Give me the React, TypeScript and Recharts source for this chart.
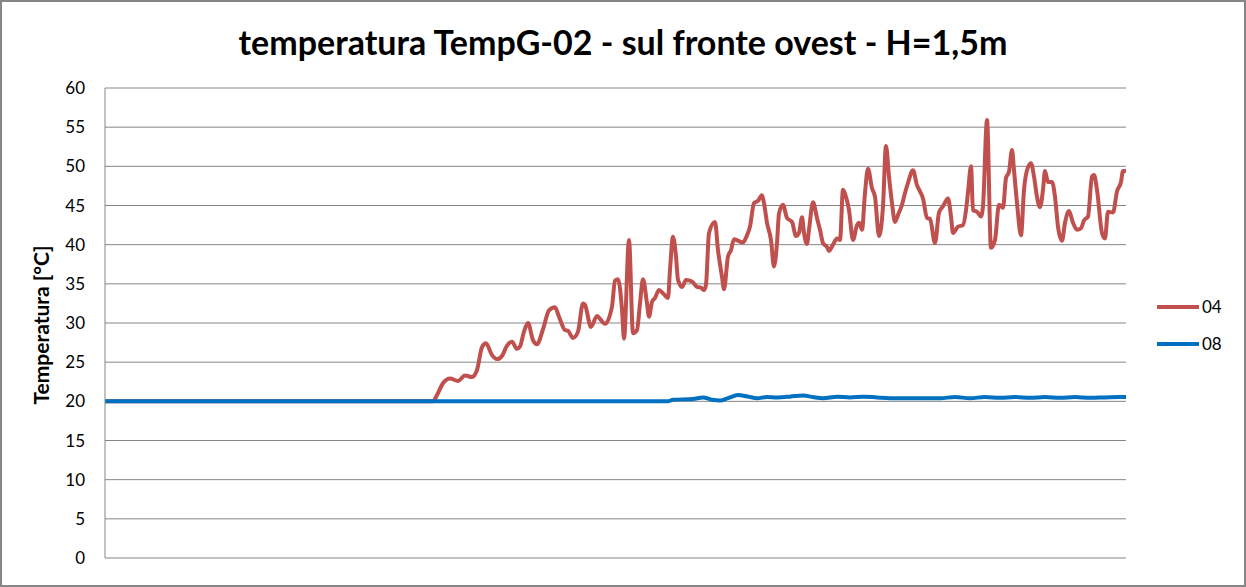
import React from 'react'
import { LineChart, Line, XAxis, YAxis, CartesianGrid, Legend } from 'recharts'

// time index (samples) and temperature readings per probe
const redTime = [
  0, 320, 328, 332, 338, 345, 353, 360, 367, 372, 377, 381, 387, 392, 397, 402, 407, 412, 415, 419,
  423, 428, 432, 438, 444, 450, 454, 460, 463, 468, 473, 478, 480, 486, 492, 497, 500, 507, 510, 513,
  517, 519, 524, 528, 532, 535, 538, 542, 544, 547, 550, 554, 558, 563, 565, 568, 571, 573, 577, 581,
  587, 592, 596, 599, 601, 604, 610, 613, 617, 619, 623, 626, 629, 633, 638, 642, 645, 649, 653, 657,
  659, 662, 666, 669, 672, 674, 678, 682, 687, 691, 694, 697, 699, 702, 704, 708, 712, 715, 718, 722,
  724, 728, 732, 735, 738, 741, 744, 748, 752, 754, 757, 760, 763, 767, 770, 774, 778, 781, 784, 787,
  790, 793, 797, 800, 803, 808, 812, 815, 818, 822, 825, 830, 834, 838, 843, 846, 848, 853, 858, 861,
  863, 866, 868, 872, 876, 878, 882, 886, 890, 894, 898, 901, 904, 907, 909, 912, 916, 919, 922, 926,
  929, 932, 935, 938, 940, 943, 947, 950, 953, 957, 960, 964, 968, 972, 976, 979, 983, 987, 989, 992,
  997, 1000, 1003, 1008, 1012, 1016, 1018, 1021,
]
const redTemp = [
  20, 20, 20, 20.8, 22.3, 22.9, 22.6, 23.3, 23.1, 24, 26.9, 27.4, 25.9, 25.4, 25.8, 27.1, 27.6, 26.7, 27, 28.9,
  30, 27.8, 27.3, 29.2, 31.6, 32, 30.8, 29.1, 29, 28.1, 28.9, 32.5, 32.3, 29.5, 30.9, 30.2, 29.9, 32.1, 35.4, 35.6,
  31.7, 28, 40.6, 28.7, 29.1, 32.5, 35.6, 32.5, 30.8, 32.7, 33.2, 34.2, 33.8, 33.2, 36.8, 41, 38.5, 35.5, 34.6, 35.5,
  35.3, 34.6, 34.5, 34.2, 34.9, 41.5, 42.9, 39.3, 35.9, 34.3, 38.5, 39.3, 40.7, 40.5, 40.3, 41.2, 42.3, 45.3, 45.6, 46.3,
  45.3, 42.8, 40.6, 37.2, 40.2, 44, 45.1, 43.4, 42.9, 41.1, 41.5, 43.5, 41.5, 40.1, 41.9, 45.4, 43.4, 41.9, 40.2, 39.7,
  39.2, 40, 40.8, 40.6, 47, 46.1, 44.4, 40.6, 42.5, 42.8, 41.9, 46.6, 49.7, 47.2, 46.1, 41.1, 44.9, 52.6, 48.7, 45.3,
  42.9, 43.8, 45.1, 46.6, 47.9, 49.5, 47.6, 46.8, 45.9, 43.4, 43.3, 40.2, 44.1, 44.9, 45.9, 43.6, 41.5, 42.3, 42.5, 44.4,
  46.7, 50, 44.4, 44.2, 43.6, 44.9, 55.9, 39.6, 40.6, 45.1, 44.7, 48.5, 49.3, 52.1, 49.5, 45.3, 41.2, 47, 49.5, 50.4,
  48.7, 46.1, 44.8, 47, 49.4, 48, 48, 46.1, 42.3, 40.5, 42.8, 44.3, 42.8, 41.9, 42.1, 43.1, 43.6, 48.7, 48.9, 47,
  41.5, 40.8, 44.2, 44.1, 46.8, 48, 49.4, 49.4,
]

const blueTime = [
  0, 563, 568, 588, 598, 607, 615, 623, 633, 643, 652, 662, 672, 685, 698, 708, 718, 732, 745, 758,
  772, 785, 835, 850, 865, 880, 895, 910, 925, 940, 955, 970, 985, 1000, 1015, 1021,
]
const blueTemp = [
  20, 20, 20.2, 20.3, 20.5, 20.2, 20.1, 20.4, 20.8, 20.6, 20.4, 20.55, 20.5, 20.6, 20.75, 20.55, 20.4, 20.6, 20.5, 20.6,
  20.5, 20.4, 20.4, 20.55, 20.4, 20.55, 20.45, 20.55, 20.45, 20.55, 20.45, 20.55, 20.45, 20.5, 20.55, 20.55,
]

const yTicks = [0, 5, 10, 15, 20, 25, 30, 35, 40, 45, 50, 55, 60]

const seriesNames = ['04', '08']
const seriesColors = ['#C0504D', '#0070C0']

const redData = redTime.map((t, i) => ({ t, v: redTemp[i] }))
const blueData = blueTime.map((t, i) => ({ t, v: blueTemp[i] }))

const FONT = 'Lato, "Open Sans", sans-serif'

function LegendBox(props: any) {
  const items = props.payload || []
  return (
    <div style={{ fontFamily: FONT, fontSize: 17, color: '#000' }}>
      {items.map((it: any) => (
        <div key={it.value} style={{ display: 'flex', alignItems: 'center', height: 37 }}>
          <div style={{ width: 42, height: 4, background: it.color, marginRight: 3 }} />
          <span>{it.value}</span>
        </div>
      ))}
    </div>
  )
}

export default function App() {
  return (
    <div style={{ position: 'absolute', left: 0, top: 0, width: 1246, height: 587, background: '#fff' }}>
      <LineChart
        width={1246}
        height={587}
        margin={{ top: 88, right: 40, bottom: 29, left: 0 }}
        style={{ position: 'absolute', left: 0, top: 0 }}
      >
        <CartesianGrid vertical={false} stroke="#868686" strokeWidth={1} />
        <XAxis type="number" dataKey="t" domain={[0, 1021]} hide allowDuplicatedCategory={false} />
        <YAxis
          width={105}
          domain={[0, 60]}
          ticks={yTicks}
          interval={0}
          tickLine={false}
          tickSize={6}
          tickMargin={14}
          axisLine={{ stroke: '#868686' }}
          tick={{ fill: '#000', fontSize: 17, fontFamily: FONT }}
        />
        <Legend
          layout="vertical"
          align="right"
          verticalAlign="middle"
          content={<LegendBox />}
          wrapperStyle={{ left: 1157, top: 288, width: 80, height: 74 }}
        />
        <Line
          data={redData}
          dataKey="v"
          name={seriesNames[0]}
          type="monotone"
          stroke={seriesColors[0]}
          strokeWidth={4}
          dot={false}
          isAnimationActive={false}
        />
        <Line
          data={blueData}
          dataKey="v"
          name={seriesNames[1]}
          type="monotone"
          stroke={seriesColors[1]}
          strokeWidth={4}
          dot={false}
          isAnimationActive={false}
        />
      </LineChart>
      <div
        style={{
          position: 'absolute', left: 0, top: 22, width: 1246, textAlign: 'center',
          fontFamily: FONT, fontWeight: 700, fontSize: 34, color: '#000', lineHeight: '40px',
        }}
      >
        temperatura TempG-02 - sul fronte ovest - H=1,5m
      </div>
      <div
        style={{
          position: 'absolute', left: 40, top: 325, transform: 'translate(-50%, -50%) rotate(-90deg)',
          fontFamily: FONT, fontWeight: 700, fontSize: 21, color: '#000', whiteSpace: 'nowrap',
        }}
      >
        Temperatura [°C]
      </div>
      <div
        style={{
          position: 'absolute', left: 0, top: 0, width: 1246, height: 587,
          boxSizing: 'border-box', border: '2px solid #868686', pointerEvents: 'none',
        }}
      />
    </div>
  )
}
